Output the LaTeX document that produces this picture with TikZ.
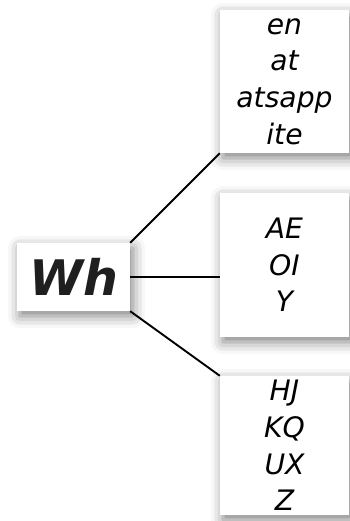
\documentclass[tikz,border=0pt]{standalone}
\usepackage{fontspec}
\setmainfont{DejaVu Sans}[ItalicFont={DejaVu Sans Oblique},BoldFont={DejaVu Sans Bold},BoldItalicFont={DejaVu Sans Bold Oblique}]
\usetikzlibrary{shadows.blur}
\begin{document}
\begin{tikzpicture}[x=1pt,y=-1pt,
  card/.style={rectangle,fill=white,draw=none,inner sep=0pt,align=center,
    blur shadow={shadow xshift=3pt,shadow yshift=-5pt,shadow blur radius=12pt,shadow opacity=50}},
  leaf/.style={card,minimum width=129pt,font=\fontsize{28.2}{36.7}\selectfont\itshape},
  link/.style={line width=1.9pt,black}]
\useasboundingbox (0,0) rectangle (349,521);
\node[card,minimum width=113pt,minimum height=68pt,text=black!88,font=\fontsize{49}{55}\selectfont\bfseries\itshape] (wh) at (73.5,277) {Wh};
\node[leaf,minimum height=143pt] (top) at (284.5,81.5) {en\\at\\atsapp\\ite};
\node[leaf,minimum height=144pt] (mid) at (284.5,265) {AE\\OI\\Y};
\node[leaf,minimum height=139pt] (bot) at (284.5,445.5) {HJ\\KQ\\UX\\Z};
\draw[link] (wh.north east) -- (top.south west);
\draw[link] (wh.east) -- (wh.east -| mid.west);
\draw[link] (wh.south east) -- (bot.north west);
\end{tikzpicture}
\end{document}
